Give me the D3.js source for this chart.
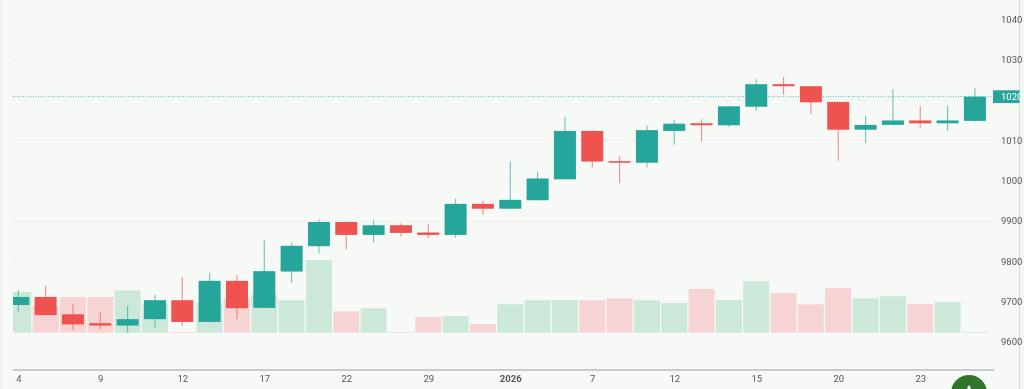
<!DOCTYPE html>
<html>
<head>
<meta charset="utf-8">
<script src="https://cdn.jsdelivr.net/npm/d3@7/dist/d3.min.js"></script>
<style>
html,body{margin:0;padding:0;background:#f7f9f7;overflow:hidden}
svg{display:block;font-family:Roboto,sans-serif}
</style>
</head>
<body>
<svg id="c" width="1024" height="389"></svg>
<script>
const opens  = [9691,9711,9668,9646,9640,9656,9703,9649,9751,9684,9774,9837,9897,9865,9889,9871,9865,9942,9930,9951,10003,10123,10048,10044,10123,10142,10137,10183,10239,10234,10195,10126,10138,10149,10142,10148];
const closes = [9711,9666,9643,9640,9656,9703,9649,9751,9683,9775,9838,9897,9865,9889,9870,9865,9942,9930,9952,10005,10123,10047,10044,10125,10141,10137,10184,10239,10234,10194,10126,10138,10149,10142,10149,10208];
const highs  = [9728,9738,9693,9673,9689,9716,9761,9770,9765,9852,9845,9904,9899,9902,9894,9892,9955,9949,10047,10022,10158,10125,10060,10137,10150,10152,10184,10251,10257,10234,10195,10161,10227,10185,10186,10229];
const lows   = [9673,9666,9629,9631,9622,9634,9639,9649,9656,9684,9746,9819,9829,9846,9861,9857,9858,9915,9930,9951,10003,10032,9994,10032,10089,10096,10133,10173,10213,10165,10049,10093,10138,10131,10123,10146];
const volumes= [40.7,26.7,35.7,35.7,42.4,29,0.7,30,34,38,32.4,72.7,21.4,24.4,0.7,15.7,16.7,8.7,28.4,32.4,32.7,32.4,34.4,32.4,29.7,43.7,32.7,51.4,39.7,28.4,44.7,34.4,36.4,28.7,30.4,0.7];
const timeLabels = ["4","9","12","17","22","29","2026","7","12","15","20","23"];
const priceTicks = [9600,9700,9800,9900,10000,10100,10200,10300,10400];
const priceLabels = ["9600","9700","9800","9900","1000","1010","1020","1030","1040"];
const lastPrice = 10208;
const lastPriceLabel = "1020";

const UP="#26a69a", DOWN="#ef5350", VOL_UP="#cbe8d8", VOL_DOWN="#f7d4d4";
const L=13, R=994;
const x=d3.scaleLinear().domain([0,35]).range([18.3,974.9]);
const y=d3.scaleLinear().domain([9600,10400]).range([341.7,19.3]);
const v=d3.scaleLinear().domain([0,100]).range([332.7,232.7]);
const idx=d3.range(opens.length);
const bw=22, vw=26;

const svg=d3.select("#c");
const defs=svg.append("defs");
defs.append("clipPath").attr("id","plot").append("rect").attr("x",L).attr("y",0).attr("width",R-L).attr("height",370);
defs.append("filter").attr("id","soft").attr("x","-2%").attr("y","-2%").attr("width","104%").attr("height","104%")
  .append("feGaussianBlur").attr("stdDeviation",0.35);

const root=svg.append("g").attr("filter","url(#soft)");
root.append("rect").attr("width",1024).attr("height",389).attr("fill","#f7f9f7");
root.append("rect").attr("x",0).attr("width",2).attr("height",389).attr("fill","#f1f3f1");
root.append("rect").attr("x",1019.5).attr("width",4.5).attr("height",389).attr("fill","#f4f5f4");
root.append("line").attr("x1",1019.5).attr("x2",1019.5).attr("y1",0).attr("y2",389).attr("stroke","#d8dad9");

const plot=root.append("g").attr("clip-path","url(#plot)");
plot.append("g").selectAll("line").data(priceTicks).join("line")
  .attr("x1",L).attr("x2",R).attr("y1",d=>y(d)).attr("y2",d=>y(d))
  .attr("stroke","#f0f2f0").attr("stroke-width",1);

plot.append("g").selectAll("rect").data(idx).join("rect")
  .attr("x",i=>x(i)-vw/2).attr("width",vw)
  .attr("y",i=>v(volumes[i])).attr("height",i=>v(0)-v(volumes[i]))
  .attr("fill",i=>closes[i]>=opens[i]?VOL_UP:VOL_DOWN);

plot.append("line").attr("x1",L).attr("x2",R).attr("y1",y(lastPrice)).attr("y2",y(lastPrice))
  .attr("stroke",UP).attr("stroke-width",1).attr("stroke-opacity",0.8).attr("stroke-dasharray","1 1.5");

plot.append("g").selectAll("line").data(idx).join("line")
  .attr("x1",i=>x(i)).attr("x2",i=>x(i)).attr("y1",i=>y(highs[i])).attr("y2",i=>y(lows[i]))
  .attr("stroke",i=>closes[i]>=opens[i]?UP:DOWN).attr("stroke-width",1.1).attr("stroke-opacity",0.65);

plot.append("g").selectAll("rect").data(idx).join("rect")
  .attr("x",i=>x(i)-bw/2).attr("width",bw)
  .attr("y",i=>y(Math.max(opens[i],closes[i])))
  .attr("height",i=>Math.abs(y(opens[i])-y(closes[i])))
  .attr("fill",i=>closes[i]>=opens[i]?UP:DOWN);

// bottom time axis
const tickIdx=timeLabels.map((_,k)=>k*3);
const xAxis=d3.axisBottom(x).tickValues(tickIdx).tickSize(0).tickPadding(5)
  .tickFormat((_,k)=>timeLabels[k]);
const gx=root.append("g").attr("transform","translate(0,370)").call(xAxis);
gx.select(".domain").remove();
gx.selectAll("text").attr("fill","#555").attr("font-size",9.5).attr("font-family","Roboto,sans-serif")
  .attr("font-weight",(_,k)=>timeLabels[k]==="2026"?700:400);
root.append("line").attr("x1",L).attr("x2",R).attr("y1",370).attr("y2",370).attr("stroke","#9a9cae").attr("stroke-width",1.2);

// right price axis; the tick at the last price is hidden by its tag
const shownTicks=priceTicks.filter(d=>d!==10200);
const yAxis=d3.axisRight(y).tickValues(shownTicks).tickSize(0).tickPadding(0)
  .tickFormat(d=>priceLabels[priceTicks.indexOf(d)]);
const gy=root.append("g").attr("transform","translate(1001,0)").call(yAxis);
gy.select(".domain").remove();
gy.selectAll("text").attr("fill","#555").attr("font-size",9.5).attr("font-family","Roboto,sans-serif");
root.append("rect").attr("x",993).attr("y",y(lastPrice)-6.4).attr("width",26.5).attr("height",12.8).attr("fill",UP);
const yLast=d3.axisRight(y).tickValues([lastPrice]).tickSize(0).tickPadding(0).tickFormat(()=>lastPriceLabel);
const gl=root.append("g").attr("transform","translate(1001,0)").call(yLast);
gl.select(".domain").remove();
gl.selectAll("text").attr("fill","#fff").attr("font-size",9.5).attr("font-family","Roboto,sans-serif");

// floating round button
root.append("circle").attr("cx",969).attr("cy",393).attr("r",18).attr("fill","#33732f");
root.append("path").attr("d","M969 385l-1.6 2.4v2h3.2v-2z").attr("fill","#fff");
</script>
</body>
</html>
